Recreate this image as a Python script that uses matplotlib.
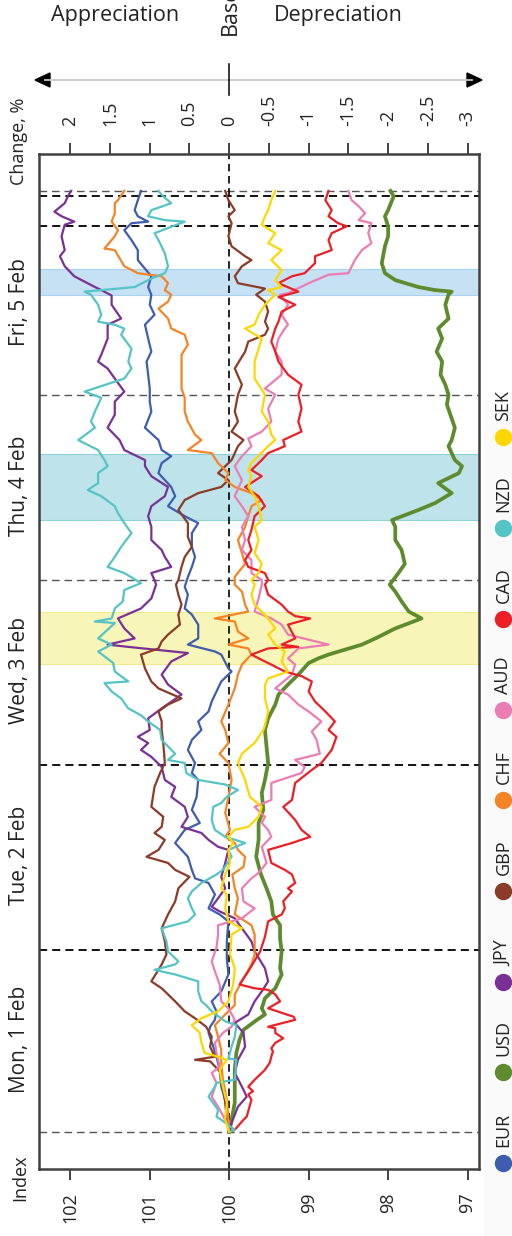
import matplotlib
matplotlib.use("Agg")
import matplotlib.pyplot as plt
from matplotlib.lines import Line2D
from matplotlib.patches import Polygon, Rectangle
import matplotlib.transforms as mtransforms

plt.rcParams['font.family'] = ['Open Sans', 'DejaVu Sans']

W, H = 512, 1236

currencies = ['EUR', 'USD', 'JPY', 'GBP', 'CHF', 'AUD', 'CAD', 'NZD', 'SEK']
colors = ['#3F5DAE', '#5E8B2E', '#7A3195', '#8B3B28', '#F58426',
          '#EC7DB4', '#EC1F26', '#55C4C6', '#FFD700']

# hours since the start of the week, index values (start = 100)
eur_hours = [0, 2.5, 4.2, 5.9, 8.1, 9.8, 11.1, 12.9, 13.7, 14.6,
             15.7, 17.0, 18.3, 20.5, 22.6, 24.8, 27.4, 28.3, 29.1, 30.9,
             32.4, 33.0, 34.1, 35.8, 36.7, 37.6, 39.3, 40.2, 41.9, 43.6,
             45.8, 46.7, 48.0, 49.7, 51.0, 52.3, 53.4, 54.7, 56.0, 57.3,
             58.6, 59.9, 60.3, 62.1, 62.5, 63.4, 64.2, 66.0, 67.3, 68.1,
             69.9, 70.9, 72.2, 73.5, 74.8, 76.1, 77.9, 79.2, 80.1, 81.4,
             82.7, 83.9, 85.7, 87.0, 87.9, 88.7, 90.0, 91.6, 93.7, 95.0,
             96.7, 98.5, 100.2, 101.5, 103.2, 105.0, 106.3, 107.6, 108.9, 109.9,
             111.3, 113.4, 114.7, 116.0, 117.3, 118.2, 118.4, 119.1, 119.9, 121.2,
             122.4]
eur_index = [100.00, 100.03, 100.05, 100.10, 100.12, 100.16, 100.20, 100.26, 100.24, 100.18,
             100.16, 100.22, 100.10, 100.01, 100.03, 100.03, 100.01, 100.12, 100.26, 100.18,
             100.26, 100.43, 100.47, 100.52, 100.60, 100.68, 100.56, 100.37, 100.47, 100.41,
             100.39, 100.47, 100.43, 100.52, 100.47, 100.35, 100.39, 100.26, 100.22, 100.16,
             100.10, 99.97, 100.01, 100.10, 100.18, 100.52, 100.39, 100.39, 100.47, 100.56,
             100.52, 100.56, 100.52, 100.47, 100.43, 100.47, 100.47, 100.39, 100.56, 100.77,
             100.68, 100.73, 100.89, 100.85, 100.73, 100.85, 100.89, 101.06, 100.98, 101.00,
             101.00, 101.02, 101.04, 100.98, 101.02, 101.06, 100.94, 101.00, 100.98, 101.02,
             100.98, 101.15, 101.15, 101.23, 101.32, 101.23, 101.02, 101.15, 101.19, 101.15,
             101.11]

usd_hours = [0, 1.6, 3.8, 5.9, 8.1, 10.3, 12.0, 13.3, 14.6, 15.3,
             16.1, 17.4, 18.7, 20.5, 21.3, 23.5, 25.2, 26.9, 28.3, 30.0,
             31.7, 33.5, 35.8, 38.0, 40.2, 41.9, 44.1, 45.8, 48.0, 50.1,
             52.3, 53.8, 55.6, 56.9, 58.2, 59.5, 61.0, 61.6, 62.1, 63.4,
             64.2, 65.5, 66.8, 67.7, 69.0, 70.3, 71.2, 72.7, 73.9, 75.7,
             77.0, 78.7, 79.6, 80.9, 81.8, 83.1, 84.4, 85.7, 86.6, 87.4,
             89.2, 90.0, 91.6, 92.8, 94.6, 95.9, 97.2, 98.5, 100.2, 101.5,
             103.2, 104.5, 105.8, 107.6, 108.9, 109.3, 109.5, 109.9, 110.8, 111.7,
             113.0, 115.2, 116.5, 117.8, 119.1, 119.9, 121.7, 122.4]
usd_index = [100.00, 99.97, 99.93, 99.93, 99.93, 99.91, 99.87, 99.82, 99.65, 99.55,
             99.59, 99.55, 99.42, 99.34, 99.36, 99.34, 99.36, 99.36, 99.45, 99.47,
             99.53, 99.60, 99.66, 99.63, 99.63, 99.57, 99.59, 99.55, 99.51, 99.53,
             99.55, 99.51, 99.42, 99.38, 99.26, 99.13, 99.00, 98.88, 98.75, 98.33,
             98.16, 97.91, 97.58, 97.74, 97.83, 97.91, 97.98, 97.87, 97.79, 97.83,
             97.91, 97.91, 97.95, 97.62, 97.41, 97.20, 97.37, 97.11, 97.07, 97.16,
             97.24, 97.20, 97.16, 97.20, 97.26, 97.24, 97.28, 97.34, 97.32, 97.39,
             97.32, 97.37, 97.24, 97.28, 97.24, 97.20, 97.41, 97.62, 97.91, 98.04,
             98.08, 98.04, 98.00, 98.00, 98.04, 98.00, 97.93, 97.97]

jpy_hours = [0, 1.2, 3.3, 4.6, 5.5, 7.7, 9.4, 11.1, 12.9, 14.2,
             15.3, 17.0, 18.3, 19.6, 21.3, 23.5, 24.8, 26.5, 27.8, 28.7,
             29.3, 30.4, 31.7, 33.2, 35.0, 36.7, 37.1, 38.0, 38.9, 39.7,
             41.0, 42.3, 43.6, 44.9, 45.8, 47.5, 48.8, 49.7, 50.6, 51.4,
             52.3, 53.8, 55.1, 56.9, 58.2, 59.5, 61.2, 62.3, 63.1, 63.4,
             64.2, 65.5, 66.8, 68.1, 69.4, 71.2, 71.8, 72.7, 73.5, 74.8,
             75.7, 77.0, 78.7, 80.1, 81.4, 82.7, 83.9, 85.3, 86.6, 87.4,
             88.7, 90.0, 91.6, 93.3, 95.0, 96.3, 98.0, 99.3, 100.2, 101.1,
             103.2, 105.0, 105.8, 107.6, 108.8, 109.5, 109.9, 111.3, 112.6, 113.9,
             114.7, 116.5, 118.0, 118.4, 119.1, 119.7, 120.8, 121.7, 122.4]
jpy_index = [100.00, 99.97, 99.89, 99.78, 99.82, 99.93, 99.89, 99.80, 99.82, 99.93,
             99.76, 99.68, 99.59, 99.51, 99.55, 99.68, 99.72, 99.84, 99.93, 100.12,
             100.22, 100.14, 100.05, 100.10, 100.05, 100.01, 100.14, 100.26, 100.35, 100.60,
             100.52, 100.56, 100.73, 100.68, 100.81, 100.85, 100.98, 101.11, 101.02, 101.15,
             101.00, 101.02, 100.85, 100.60, 100.77, 100.85, 100.73, 100.52, 101.27, 101.53,
             101.19, 101.32, 101.40, 101.11, 100.98, 100.92, 100.94, 100.98, 100.73, 100.81,
             100.85, 100.98, 100.98, 101.02, 100.98, 100.81, 100.77, 100.98, 101.06, 101.06,
             101.32, 101.38, 101.53, 101.44, 101.44, 101.32, 101.44, 101.53, 101.65, 101.61,
             101.53, 101.53, 101.36, 101.48, 101.48, 101.61, 101.69, 101.95, 102.07, 102.13,
             102.07, 102.11, 102.07, 101.95, 102.11, 102.20, 102.07, 102.03, 101.99]

gbp_hours = [0, 1.6, 3.8, 5.9, 7.7, 9.2, 9.4, 9.8, 11.1, 12.4,
             13.7, 14.8, 15.7, 17.0, 18.7, 19.6, 21.8, 23.1, 24.8, 26.5,
             28.3, 30.0, 31.7, 33.2, 34.1, 35.0, 35.8, 36.7, 38.0, 38.9,
             39.7, 41.0, 42.3, 44.9, 46.7, 48.0, 50.6, 52.3, 53.4, 54.7,
             55.6, 56.4, 57.7, 58.6, 60.3, 62.1, 62.9, 63.8, 64.7, 66.0,
             67.3, 68.6, 69.9, 71.2, 71.8, 73.5, 74.8, 76.1, 77.4, 79.2,
             80.9, 82.2, 83.1, 83.9, 84.8, 85.7, 87.4, 88.3, 89.2, 90.0,
             91.1, 92.4, 93.7, 95.9, 97.2, 99.3, 101.5, 102.8, 103.7, 104.5,
             105.4, 106.7, 108.0, 108.9, 109.7, 110.4, 111.3, 112.6, 113.4, 113.9,
             115.2, 116.5, 118.2, 119.1, 119.9, 121.2, 122.4]
gbp_index = [100.00, 100.03, 100.05, 100.08, 100.10, 100.24, 100.43, 100.18, 100.24, 100.22,
             100.29, 100.43, 100.56, 100.68, 100.85, 100.98, 100.85, 100.79, 100.81, 100.85,
             100.77, 100.68, 100.64, 100.50, 100.68, 100.77, 101.04, 100.89, 100.81, 100.94,
             100.85, 100.83, 100.98, 100.94, 100.87, 100.81, 100.83, 100.85, 100.85, 100.89,
             100.77, 100.60, 100.89, 100.98, 101.06, 101.11, 100.89, 100.85, 100.77, 100.62,
             100.64, 100.60, 100.64, 100.67, 100.64, 100.60, 100.56, 100.47, 100.52, 100.52,
             100.64, 100.56, 100.39, 100.10, 100.01, 100.14, 99.97, 99.93, 99.89, 99.82,
             99.97, 99.89, 99.93, 99.89, 99.84, 99.93, 99.80, 99.76, 99.55, 99.51,
             99.55, 99.51, 99.55, 99.66, 99.55, 99.89, 99.93, 99.84, 99.72, 99.80,
             99.97, 100.01, 99.97, 100.01, 99.93, 100.01, 100.05]

chf_hours = [0, 1.6, 4.2, 6.8, 9.0, 10.7, 12.4, 13.9, 15.3, 16.5,
             17.9, 19.6, 21.8, 23.1, 25.7, 26.9, 28.3, 30.4, 31.7, 33.5,
             34.5, 35.8, 36.7, 37.6, 38.4, 39.3, 41.5, 43.6, 45.8, 48.0,
             49.2, 50.6, 52.3, 53.4, 55.6, 57.7, 59.5, 60.8, 62.1, 62.9,
             63.4, 64.2, 65.1, 66.4, 66.8, 67.7, 68.6, 70.3, 71.2, 72.2,
             73.9, 75.3, 77.0, 78.7, 80.1, 81.4, 82.2, 83.1, 83.9, 84.8,
             85.7, 87.0, 88.3, 88.7, 90.0, 90.7, 92.4, 93.7, 95.5, 96.7,
             98.5, 101.1, 102.4, 103.7, 104.5, 105.8, 107.1, 108.0, 108.9, 109.5,
             110.4, 111.3, 111.7, 112.6, 114.7, 114.9, 116.5, 117.3, 118.4, 119.5,
             120.8, 121.2, 122.4]
chf_index = [100.00, 100.01, 100.03, 100.08, 100.10, 100.10, 100.14, 100.18, 100.05, 99.93,
             99.93, 99.84, 99.72, 99.68, 99.68, 99.72, 99.93, 99.89, 99.93, 99.96,
             99.82, 99.80, 99.89, 99.93, 100.05, 99.99, 100.05, 100.01, 99.97, 100.01,
             100.12, 100.01, 100.05, 100.10, 100.01, 99.93, 99.89, 99.84, 99.72, 99.76,
             100.01, 99.76, 99.89, 99.93, 100.18, 99.76, 99.80, 99.84, 99.93, 99.93,
             99.80, 99.84, 99.89, 99.80, 99.76, 99.72, 99.59, 99.72, 99.93, 100.05,
             100.01, 100.14, 100.22, 100.52, 100.35, 100.43, 100.52, 100.56, 100.56, 100.60,
             100.60, 100.60, 100.52, 100.56, 100.73, 100.77, 100.89, 100.77, 100.73, 100.81,
             100.77, 100.85, 101.15, 101.32, 101.44, 101.57, 101.44, 101.40, 101.48, 101.44,
             101.44, 101.40, 101.32]

aud_hours = [0, 1.2, 3.3, 4.6, 6.4, 7.7, 8.5, 10.3, 11.6, 12.9,
             13.7, 14.6, 16.1, 17.0, 19.2, 20.9, 22.2, 24.0, 25.7, 26.9,
             27.8, 29.1, 30.0, 31.7, 33.0, 33.7, 35.0, 37.1, 38.4, 39.3,
             40.2, 41.0, 42.3, 43.2, 45.4, 46.7, 47.5, 48.4, 49.2, 51.0,
             52.1, 53.4, 54.7, 55.6, 56.9, 57.7, 59.5, 60.8, 61.6, 62.9,
             63.4, 64.7, 66.0, 66.8, 67.7, 69.4, 71.2, 71.8, 72.7, 74.4,
             75.7, 77.0, 78.7, 80.1, 81.4, 82.7, 84.8, 86.6, 87.9, 89.2,
             90.2, 91.1, 92.4, 94.1, 95.9, 96.7, 98.5, 100.2, 101.5, 103.2,
             104.5, 105.0, 106.3, 107.6, 108.9, 109.1, 110.4, 111.5, 111.7, 113.4,
             114.7, 115.6, 116.9, 118.2, 118.6, 119.5, 120.4, 121.2, 122.4]
aud_index = [100.00, 100.03, 100.14, 100.22, 100.16, 100.22, 100.12, 100.16, 100.18, 100.08,
             99.97, 99.93, 100.01, 100.10, 100.12, 100.18, 100.22, 100.16, 100.14, 100.14,
             99.84, 99.68, 99.82, 99.84, 99.72, 99.63, 99.53, 99.59, 99.47, 99.51,
             99.59, 99.55, 99.68, 99.47, 99.47, 99.09, 99.05, 99.17, 98.86, 98.90,
             98.96, 98.84, 99.00, 99.13, 99.26, 99.42, 99.21, 99.17, 99.26, 99.13,
             98.75, 99.26, 99.34, 99.47, 99.68, 99.63, 99.59, 99.59, 99.72, 99.72,
             99.84, 99.80, 99.84, 99.76, 99.84, 99.93, 99.84, 99.93, 99.84, 99.72,
             99.76, 99.59, 99.47, 99.51, 99.42, 99.55, 99.34, 99.34, 99.42, 99.38,
             99.30, 99.26, 99.34, 99.26, 99.36, 99.26, 99.00, 98.75, 98.50, 98.42,
             98.33, 98.21, 98.25, 98.21, 98.37, 98.29, 98.37, 98.46, 98.50]

cad_hours = [0, 0.3, 1.6, 2.0, 4.2, 4.9, 5.3, 5.9, 6.8, 8.1,
             9.0, 9.8, 10.5, 10.9, 11.6, 12.2, 12.9, 13.5, 13.7, 14.6,
             15.0, 16.1, 17.0, 17.9, 18.5, 18.7, 19.2, 20.9, 23.5, 25.4,
             27.4, 28.3, 29.1, 30.0, 31.3, 31.7, 32.4, 33.5, 34.1, 35.0,
             36.7, 37.6, 38.4, 39.3, 40.6, 42.3, 43.2, 45.4, 47.1, 48.0,
             49.7, 51.4, 52.3, 53.4, 54.7, 56.0, 57.3, 58.6, 59.3, 59.9,
             60.8, 61.4, 62.1, 62.9, 63.1, 63.4, 64.2, 66.0, 66.8, 67.1,
             67.7, 68.6, 69.9, 71.2, 71.8, 72.7, 73.5, 74.4, 75.7, 77.0,
             78.3, 80.1, 81.4, 82.7, 83.9, 85.3, 86.1, 87.4, 88.3, 89.2,
             90.0, 91.1, 92.4, 94.1, 95.9, 97.2, 98.5, 100.2, 101.5, 102.8,
             104.5, 105.4, 106.7, 107.6, 108.6, 109.3, 110.4, 111.3, 111.7, 113.0,
             113.9, 114.7, 116.0, 116.9, 117.8, 118.2, 119.1, 119.9, 121.2, 122.4]
cad_index = [100.00, 99.93, 99.82, 99.78, 99.72, 99.76, 99.70, 99.76, 99.68, 99.55,
             99.49, 99.47, 99.45, 99.47, 99.42, 99.32, 99.42, 99.42, 99.51, 99.17,
             99.19, 99.51, 99.36, 99.42, 99.51, 99.68, 99.87, 99.76, 99.61, 99.55,
             99.51, 99.34, 99.30, 99.32, 99.21, 99.26, 99.17, 99.21, 99.30, 99.47,
             99.51, 99.21, 98.98, 99.09, 99.17, 99.32, 99.21, 99.17, 98.96, 98.84,
             98.71, 98.65, 98.75, 98.67, 98.79, 98.92, 99.00, 98.96, 99.09, 99.30,
             99.47, 99.59, 99.72, 99.51, 99.13, 99.34, 99.17, 99.26, 98.98, 99.17,
             99.26, 99.34, 99.51, 99.55, 99.51, 99.55, 99.76, 99.80, 99.72, 99.76,
             99.72, 99.68, 99.55, 99.63, 99.80, 99.59, 99.72, 99.59, 99.51, 99.30,
             99.32, 99.09, 99.13, 99.09, 99.13, 99.09, 99.26, 99.38, 99.42, 99.47,
             99.42, 99.38, 99.34, 99.17, 99.38, 99.13, 99.38, 99.21, 99.05, 98.92,
             98.92, 98.71, 98.75, 98.71, 98.52, 98.63, 98.75, 98.71, 98.79, 98.75]

nzd_hours = [0, 0.3, 1.6, 2.0, 2.9, 4.6, 5.9, 6.4, 6.8, 9.4,
             9.6, 11.1, 12.4, 13.9, 14.4, 15.7, 16.5, 17.0, 18.3, 19.6,
             20.5, 21.1, 21.8, 22.2, 23.5, 24.8, 26.5, 27.4, 28.3, 29.1,
             30.4, 31.3, 32.4, 33.5, 34.1, 35.8, 36.7, 37.6, 38.4, 39.3,
             40.6, 42.3, 42.8, 43.6, 44.5, 45.2, 45.8, 46.7, 48.0, 48.4,
             49.2, 51.0, 52.3, 53.4, 54.2, 55.1, 56.4, 57.3, 58.4, 58.6,
             59.9, 61.0, 62.5, 63.4, 64.2, 66.2, 66.4, 66.8, 68.1, 69.0,
             70.5, 71.4, 72.7, 73.5, 74.8, 76.1, 77.9, 79.2, 80.5, 81.4,
             82.7, 83.5, 84.4, 85.7, 86.6, 87.4, 88.7, 90.0, 91.6, 92.4,
             93.7, 95.5, 96.3, 98.0, 99.3, 100.2, 101.9, 103.7, 104.5, 105.0,
             105.4, 106.3, 107.6, 108.9, 109.3, 109.9, 111.0, 111.7, 112.6, 114.3,
             116.0, 116.9, 118.4, 118.6, 119.1, 119.9, 120.8, 121.9, 122.4]
nzd_index = [100.00, 99.93, 100.10, 100.16, 100.14, 100.26, 100.18, 100.16, 99.93, 99.91,
             100.01, 99.97, 99.93, 99.91, 100.05, 100.22, 100.29, 100.35, 100.39, 100.39,
             100.68, 100.94, 100.68, 100.64, 100.77, 100.79, 100.85, 100.52, 100.43, 100.47,
             100.52, 100.47, 100.35, 100.16, 100.08, 99.97, 100.01, 99.80, 100.05, 100.18,
             100.22, 100.20, 100.10, 100.03, 99.89, 100.05, 100.39, 100.54, 100.56, 100.77,
             100.68, 100.85, 100.87, 101.02, 101.11, 101.27, 101.36, 101.48, 101.57, 101.27,
             101.44, 101.46, 101.65, 101.48, 101.65, 101.44, 101.69, 101.48, 101.44, 101.34,
             101.32, 101.11, 101.32, 101.53, 101.44, 101.36, 101.23, 101.32, 101.40, 101.44,
             101.61, 101.78, 101.65, 101.65, 101.53, 101.57, 101.65, 101.90, 101.69, 101.74,
             101.69, 101.61, 101.82, 101.32, 101.23, 101.27, 101.23, 101.36, 101.32, 101.44,
             101.65, 101.61, 101.65, 101.74, 101.82, 101.19, 100.98, 100.81, 100.77, 100.81,
             100.89, 100.94, 100.56, 100.81, 101.02, 100.98, 100.73, 100.85, 100.89]

sek_hours = [0, 1.6, 3.8, 5.9, 8.1, 9.4, 9.8, 10.3, 11.6, 12.9,
             13.9, 14.8, 15.7, 17.0, 19.2, 21.3, 23.1, 25.7, 26.5, 27.4,
             29.1, 30.9, 31.7, 33.5, 35.0, 36.7, 37.6, 38.4, 39.3, 39.7,
             41.0, 42.3, 43.6, 45.8, 48.0, 49.2, 50.6, 52.3, 52.9, 54.7,
             56.4, 58.2, 59.0, 59.9, 61.2, 62.5, 63.4, 64.7, 65.5, 66.8,
             68.6, 69.9, 71.2, 71.8, 72.7, 73.9, 75.3, 77.0, 78.7, 79.6,
             81.4, 82.7, 83.9, 85.3, 86.1, 87.0, 89.2, 90.0, 90.7, 92.4,
             93.7, 95.9, 98.0, 100.2, 101.9, 103.2, 104.5, 105.0, 106.3, 107.6,
             108.9, 109.5, 109.9, 110.8, 112.1, 113.4, 114.7, 115.6, 116.9, 118.0,
             119.1, 119.9, 121.2, 122.4]
sek_index = [100.00, 100.05, 100.03, 100.08, 100.12, 100.03, 100.14, 100.31, 100.35, 100.37,
             100.47, 100.35, 100.14, 100.01, 99.95, 99.93, 99.99, 99.97, 99.84, 100.01,
             100.05, 100.03, 100.10, 100.05, 99.99, 100.01, 99.95, 100.01, 99.93, 99.76,
             99.63, 99.59, 99.74, 99.80, 99.89, 99.84, 99.68, 99.57, 99.55, 99.51,
             99.55, 99.55, 99.51, 99.26, 99.34, 99.30, 99.42, 99.51, 99.42, 99.51,
             99.68, 99.72, 99.68, 99.72, 99.63, 99.59, 99.68, 99.63, 99.68, 99.59,
             99.63, 99.68, 99.76, 99.72, 99.76, 99.72, 99.51, 99.42, 99.47, 99.51,
             99.59, 99.55, 99.68, 99.68, 99.63, 99.59, 99.80, 99.68, 99.63, 99.55,
             99.42, 99.51, 99.34, 99.42, 99.34, 99.47, 99.34, 99.51, 99.42, 99.59,
             99.55, 99.51, 99.47, 99.42]

series_hours = [eur_hours, usd_hours, jpy_hours, gbp_hours, chf_hours,
                aud_hours, cad_hours, nzd_hours, sek_hours]
series_index = [eur_index, usd_index, jpy_index, gbp_index, chf_index,
                aud_index, cad_index, nzd_index, sek_index]

day_labels = ['Mon, 1 Feb', 'Tue, 2 Feb', 'Wed, 3 Feb', 'Thu, 4 Feb', 'Fri, 5 Feb']
day_label_hours = [12, 36, 60, 84, 108]
marker_hours = [0, 23.7, 47.8, 71.8, 95.9, 117.8, 121.8, 122.4]
marker_bold = [False, True, True, False, False, True, True, False]
band_starts = [60.9, 79.6, 108.9]
band_ends = [67.7, 88.2, 112.3]
band_colors = ['#F8F5B9', '#BEE3EA', '#C6E1F4']
band_edges = ['#F0EA90', '#8FD2DC', '#A9D2F0']

index_ticks = [102, 101, 100, 99, 98, 97]
change_ticks = [2, 1.5, 1, 0.5, 0, -0.5, -1, -1.5, -2, -2.5, -3]


def fx(px):
    return px / W


def fy(py):
    return 1 - py / H


fig = plt.figure(figsize=(W / 100, H / 100), dpi=100)
ax = fig.add_axes([fx(39.3), fy(1169), fx(478.7) - fx(39.3), fy(154) - fy(1169)])

for s, e, c, ec in zip(band_starts, band_ends, band_colors, band_edges):
    ax.axhspan(s, e, facecolor=c, edgecolor=ec, lw=0.8, zorder=0)

for h, bold in zip(marker_hours, marker_bold):
    if bold:
        ax.axhline(h, color='black', lw=1.3, ls=(0, (4.5, 2.8)), zorder=1)
    else:
        ax.axhline(h, color='#555555', lw=1.0, ls=(0, (5.5, 3.5)), zorder=1)
ax.axvline(100, color='black', lw=1.2, ls=(0, (4.5, 2.8)), zorder=1)

for name, c, hrs, vals in zip(currencies, colors, series_hours, series_index):
    lw = 2.7 if name == 'USD' else 1.6
    ax.plot(vals, hrs, color=c, lw=lw, zorder=3, solid_joinstyle='round')

ax.set_xlim(102.39, 96.86)
ax.set_ylim(-4.8, 127.2)
ax.set_yticks([])
ax.set_xticks(index_ticks)
ax.set_xticklabels([str(t) for t in index_ticks], rotation=90)
ax.tick_params(axis='x', direction='out', length=8, width=1.3, color='#333333',
               labelsize=13, pad=9, labelcolor='#222222')
for sp in ax.spines.values():
    sp.set_color('#404040')
    sp.set_linewidth(1.8)

secax = ax.secondary_xaxis('top', functions=(lambda v: v - 100, lambda c: c + 100))
secax.set_xticks(change_ticks)
secax.set_xticklabels([('%g' % t) for t in change_ticks], rotation=90)
secax.tick_params(axis='x', direction='out', length=8, width=1.3, color='#333333',
                  labelsize=13, pad=12, labelcolor='#222222')
secax.spines['top'].set_visible(False)

# day labels along the time axis
trans = mtransforms.blended_transform_factory(fig.transFigure, ax.transData)
for lab, h in zip(day_labels, day_label_hours):
    ax.text(fx(20), h, lab, transform=trans, rotation=90, ha='center', va='center',
            fontsize=15, color='#222222', clip_on=False)

fig.text(fx(20), fy(1178), 'Index', rotation=90, ha='center', va='center',
         fontsize=13, color='#222222')
fig.text(fx(19), fy(141), 'Change, %', rotation=90, ha='center', va='center',
         fontsize=13, color='#222222')

# appreciation / depreciation arrow
fig.text(fx(115), fy(16), 'Appreciation', ha='center', va='center', fontsize=15.5,
         color='#222222')
fig.text(fx(338), fy(16), 'Depreciation', ha='center', va='center', fontsize=15.5,
         color='#222222')
fig.text(fx(230), fy(35), 'Base', rotation=90, ha='center', va='bottom', fontsize=15.5,
         color='#222222')
fig.add_artist(Line2D([fx(45), fx(472)], [fy(80), fy(80)], color='#C8C8C8', lw=1.3))
fig.add_artist(Polygon([(fx(35), fy(80)), (fx(50), fy(73)), (fx(50), fy(87))],
                       closed=True, color='black'))
fig.add_artist(Polygon([(fx(482), fy(80)), (fx(467), fy(73)), (fx(467), fy(87))],
                       closed=True, color='black'))
fig.add_artist(Line2D([fx(229.2), fx(229.2)], [fy(64), fy(95)], color='black', lw=1.1))

# legend strip
fig.add_artist(Rectangle((fx(484), fy(1236)), fx(512) - fx(484), fy(400) - fy(1236),
                         facecolor='#FAFAFA', edgecolor='none', zorder=-1))
for i, (name, c) in enumerate(zip(currencies, colors)):
    py = 1163 - 90.7 * i
    fig.add_artist(Line2D([fx(503)], [fy(py)], marker='o', markersize=11.5,
                          color=c, lw=0))
    fig.text(fx(503.5), fy(py - 16), name, rotation=90, ha='center', va='bottom',
             fontsize=13, color='#222222')

fig.savefig('out.png', dpi=100)
